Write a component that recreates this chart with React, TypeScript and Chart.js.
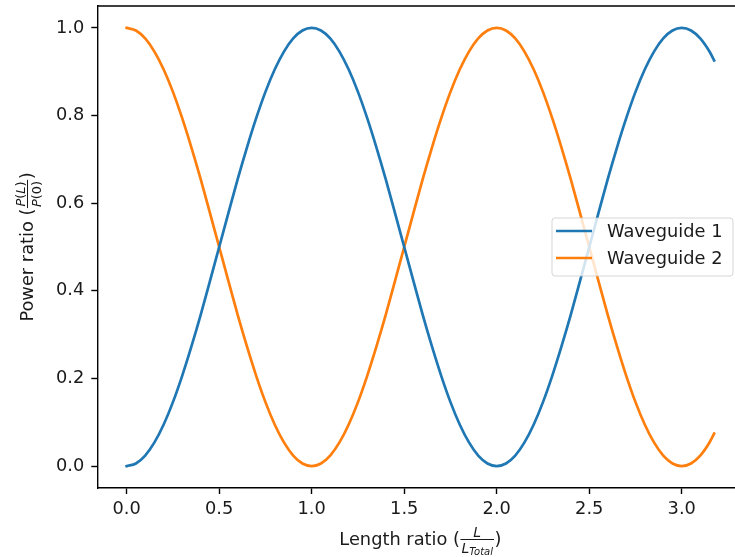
import React, { useEffect, useRef } from "react";
import { Chart, registerables } from "chart.js";

Chart.register(...registerables);

const lengthRatio = [
  0, 0.05, 0.1, 0.15, 0.2, 0.25, 0.3, 0.35, 0.4, 0.45, 0.5, 0.55, 0.6, 0.65, 0.7, 0.75, 0.8, 0.85, 0.9, 0.95,
  1.0, 1.05, 1.1, 1.15, 1.2, 1.25, 1.3, 1.35, 1.4, 1.45, 1.5, 1.55, 1.6, 1.65, 1.7, 1.75, 1.8, 1.85, 1.9, 1.95,
  2.0, 2.05, 2.1, 2.15, 2.2, 2.25, 2.3, 2.35, 2.4, 2.45, 2.5, 2.55, 2.6, 2.65, 2.7, 2.75, 2.8, 2.85, 2.9, 2.95,
  3.0, 3.05, 3.1, 3.15, 3.175,
];

const waveguide1 = [
  0, 0.006, 0.024, 0.054, 0.095, 0.146, 0.206, 0.273, 0.345, 0.422, 0.5, 0.578, 0.655, 0.727, 0.794, 0.854, 0.905, 0.946, 0.976, 0.994,
  1, 0.994, 0.976, 0.946, 0.905, 0.854, 0.794, 0.727, 0.655, 0.578, 0.5, 0.422, 0.345, 0.273, 0.206, 0.146, 0.095, 0.054, 0.024, 0.006,
  0, 0.006, 0.024, 0.054, 0.095, 0.146, 0.206, 0.273, 0.345, 0.422, 0.5, 0.578, 0.655, 0.727, 0.794, 0.854, 0.905, 0.946, 0.976, 0.994,
  1, 0.994, 0.976, 0.946, 0.926,
];

const waveguide2 = [
  1, 0.994, 0.976, 0.946, 0.905, 0.854, 0.794, 0.727, 0.655, 0.578, 0.5, 0.422, 0.345, 0.273, 0.206, 0.146, 0.095, 0.054, 0.024, 0.006,
  0, 0.006, 0.024, 0.054, 0.095, 0.146, 0.206, 0.273, 0.345, 0.422, 0.5, 0.578, 0.655, 0.727, 0.794, 0.854, 0.905, 0.946, 0.976, 0.994,
  1, 0.994, 0.976, 0.946, 0.905, 0.854, 0.794, 0.727, 0.655, 0.578, 0.5, 0.422, 0.345, 0.273, 0.206, 0.146, 0.095, 0.054, 0.024, 0.006,
  0, 0.006, 0.024, 0.054, 0.074,
];

const seriesNames = ["Waveguide 1", "Waveguide 2"];
const seriesColors = ["#1f77b4", "#ff7f0e"];
const xTicks = [0, 0.5, 1.0, 1.5, 2.0, 2.5, 3.0];
const yTicks = [0, 0.2, 0.4, 0.6, 0.8, 1.0];

const FONT = '"DejaVu Sans", sans-serif';
const FS = 17.8;
const TEXT_COLOR = "#1a1a1a";

type Run = { t: string; it?: boolean; size: number; dy?: number };

function runsWidth(ctx: CanvasRenderingContext2D, runs: Run[]) {
  let w = 0;
  for (const r of runs) {
    ctx.font = `${r.it ? "italic " : ""}${r.size}px ${FONT}`;
    w += ctx.measureText(r.t).width;
  }
  return w;
}

function drawRuns(ctx: CanvasRenderingContext2D, runs: Run[], x: number, y: number) {
  let cx = x;
  for (const r of runs) {
    ctx.font = `${r.it ? "italic " : ""}${r.size}px ${FONT}`;
    ctx.fillText(r.t, cx, y + (r.dy || 0));
    cx += ctx.measureText(r.t).width;
  }
}

function drawFracLabel(
  ctx: CanvasRenderingContext2D,
  cx: number,
  cy: number,
  rot: number,
  before: string,
  num: Run[],
  den: Run[],
  after: string
) {
  ctx.save();
  ctx.translate(cx, cy);
  ctx.rotate(rot);
  ctx.fillStyle = TEXT_COLOR;
  ctx.strokeStyle = TEXT_COLOR;
  ctx.textBaseline = "alphabetic";
  ctx.textAlign = "left";
  ctx.font = `${FS}px ${FONT}`;
  const wb = ctx.measureText(before).width;
  const wa = ctx.measureText(after).width;
  const wn = runsWidth(ctx, num);
  const wd = runsWidth(ctx, den);
  const wf = Math.max(wn, wd) + 3;
  const total = wb + wf + wa;
  let x = -total / 2;
  ctx.font = `${FS}px ${FONT}`;
  ctx.fillText(before, x, 0);
  x += wb;
  ctx.lineWidth = 1;
  ctx.beginPath();
  ctx.moveTo(x + 0.5, -5.5);
  ctx.lineTo(x + wf - 0.5, -5.5);
  ctx.stroke();
  drawRuns(ctx, num, x + (wf - wn) / 2, -8.5);
  drawRuns(ctx, den, x + (wf - wd) / 2, 7.5);
  x += wf;
  ctx.font = `${FS}px ${FONT}`;
  ctx.fillText(after, x, 0);
  ctx.restore();
}

const decorPlugin = {
  id: "decor",
  afterDatasetsDraw(chart: any) {
    const ctx: CanvasRenderingContext2D = chart.ctx;
    const a = chart.chartArea;
    // top and right spines
    ctx.save();
    ctx.strokeStyle = "#000";
    ctx.lineWidth = 1.4;
    ctx.beginPath();
    ctx.moveTo(a.left, a.top);
    ctx.lineTo(a.right, a.top);
    ctx.lineTo(a.right, a.bottom);
    ctx.stroke();
    ctx.restore();

    // legend
    ctx.save();
    const lx = 552, ly = 218, lw = 181, lh = 58, r = 3;
    ctx.beginPath();
    ctx.moveTo(lx + r, ly);
    ctx.lineTo(lx + lw - r, ly);
    ctx.arcTo(lx + lw, ly, lx + lw, ly + r, r);
    ctx.lineTo(lx + lw, ly + lh - r);
    ctx.arcTo(lx + lw, ly + lh, lx + lw - r, ly + lh, r);
    ctx.lineTo(lx + r, ly + lh);
    ctx.arcTo(lx, ly + lh, lx, ly + lh - r, r);
    ctx.lineTo(lx, ly + r);
    ctx.arcTo(lx, ly, lx + r, ly, r);
    ctx.closePath();
    ctx.fillStyle = "rgba(255,255,255,0.8)";
    ctx.fill();
    ctx.strokeStyle = "rgba(204,204,204,0.8)";
    ctx.lineWidth = 1;
    ctx.stroke();
    const rows = [231, 258];
    seriesNames.forEach((name, i) => {
      ctx.strokeStyle = seriesColors[i];
      ctx.lineWidth = 2.7;
      ctx.beginPath();
      ctx.moveTo(556, rows[i]);
      ctx.lineTo(592, rows[i]);
      ctx.stroke();
      ctx.fillStyle = TEXT_COLOR;
      ctx.font = `${FS}px ${FONT}`;
      ctx.textBaseline = "middle";
      ctx.textAlign = "left";
      ctx.fillText(name, 607, rows[i] + 1);
    });
    ctx.restore();
  },
  afterDraw(chart: any) {
    const ctx: CanvasRenderingContext2D = chart.ctx;
    const a = chart.chartArea;
    drawFracLabel(
      ctx,
      420.4,
      545,
      0,
      "Length ratio (",
      [{ t: "L", it: true, size: 14 }],
      [
        { t: "L", it: true, size: 14 },
        { t: "Total", it: true, size: 10, dy: 2.5 },
      ],
      ")"
    );
    drawFracLabel(
      ctx,
      33,
      (a.top + a.bottom) / 2,
      -Math.PI / 2,
      "Power ratio (",
      [
        { t: "P", it: true, size: 13 },
        { t: "(", size: 13 },
        { t: "L", it: true, size: 13 },
        { t: ")", size: 13 },
      ],
      [
        { t: "P", it: true, size: 13 },
        { t: "(0)", size: 13 },
      ],
      ")"
    );
  },
};

function zeroPad(s: any) {
  s.paddingTop = 0;
  s.paddingBottom = 0;
  s.paddingLeft = 0;
  s.paddingRight = 0;
}

export default function App() {
  const ref = useRef<HTMLCanvasElement>(null);
  useEffect(() => {
    if (!ref.current) return;
    const xMax = lengthRatio[lengthRatio.length - 1];
    const pad = 0.05 * xMax;
    const chart = new Chart(ref.current, {
      type: "line",
      data: {
        datasets: [waveguide1, waveguide2].map((vals, i) => ({
          label: seriesNames[i],
          data: lengthRatio.map((x, j) => ({ x, y: vals[j] })),
          borderColor: seriesColors[i],
          backgroundColor: seriesColors[i],
          borderWidth: 2.7,
          pointRadius: 0,
          cubicInterpolationMode: "monotone",
          fill: false,
          borderCapStyle: "square",
        })),
      },
      options: {
        animation: false,
        responsive: false,
        devicePixelRatio: 1,
        layout: { padding: { top: 6, right: 760 - 743.5, bottom: 0, left: 0 } },
        plugins: { legend: { display: false }, tooltip: { enabled: false } },
        scales: {
          x: {
            type: "linear",
            min: -pad,
            max: xMax + pad,
            afterBuildTicks: (s: any) => {
              s.ticks = xTicks.map((v) => ({ value: v }));
            },
            afterFit: (s: any) => {
              s.height = 69;
              zeroPad(s);
            },
            grid: { display: true, drawOnChartArea: false, drawTicks: true, tickLength: 6, tickWidth: 1.4, tickColor: "#000" },
            border: { display: true, color: "#000", width: 1.4 },
            ticks: {
              color: TEXT_COLOR,
              font: { family: FONT, size: FS },
              padding: 5,
              maxRotation: 0,
              autoSkip: false,
              callback: (v: any) => Number(v).toFixed(1),
            },
          },
          y: {
            type: "linear",
            min: -0.05,
            max: 1.05,
            afterBuildTicks: (s: any) => {
              s.ticks = yTicks.map((v) => ({ value: v }));
            },
            afterFit: (s: any) => {
              s.width = 97.3;
              zeroPad(s);
            },
            grid: { display: true, drawOnChartArea: false, drawTicks: true, tickLength: 6, tickWidth: 1.4, tickColor: "#000" },
            border: { display: true, color: "#000", width: 1.4 },
            ticks: {
              color: TEXT_COLOR,
              font: { family: FONT, size: FS },
              padding: 7,
              autoSkip: false,
              callback: (v: any) => Number(v).toFixed(1),
            },
          },
        },
      },
      plugins: [decorPlugin],
    } as any);
    return () => chart.destroy();
  }, []);
  return (
    <div style={{ position: "fixed", left: 0, top: 0, width: 735, height: 557, overflow: "hidden", background: "#fff" }}>
      <canvas ref={ref} width={760} height={557} style={{ display: "block" }} />
    </div>
  );
}
